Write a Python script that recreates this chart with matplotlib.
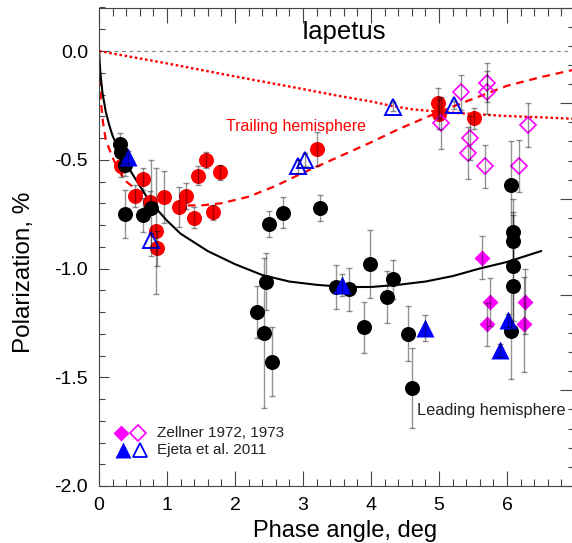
import matplotlib
matplotlib.use('Agg')
import matplotlib.pyplot as plt
from matplotlib.ticker import MultipleLocator, FormatStrFormatter

plt.rcParams['font.family'] = ['Liberation Sans', 'DejaVu Sans']
plt.rcParams['axes.unicode_minus'] = False

# ---------------- data ----------------
# Leading hemisphere, this work (black filled circles)
lead_x = [0.31, 0.32, 0.38, 0.38, 0.64, 0.76, 2.45, 2.33, 2.43, 2.54, 2.50, 2.70, 3.25,
          3.49, 3.68, 3.99, 3.90, 4.23, 4.32, 4.54, 4.61, 6.06, 6.09, 6.09, 6.09, 6.09, 6.06]
lead_y = [-0.429, -0.463, -0.524, -0.751, -0.754, -0.723, -1.06, -1.20, -1.295, -1.428, -0.795, -0.743, -0.72,
          -1.084, -1.096, -0.98, -1.27, -1.13, -1.05, -1.30, -1.55, -0.616, -0.83, -0.872, -0.99, -1.08, -1.286]
lead_e = [0.05, 0.05, 0.05, 0.11, 0.08, 0.22, 0.13, 0.12, 0.345, 0.16, 0.06, 0.07, 0.06,
          0.10, 0.10, 0.157, 0.117, 0.12, 0.09, 0.126, 0.184, 0.20, 0.15, 0.12, 0.25, 0.20, 0.22]

# Trailing hemisphere, this work (red filled circles)
trail_x = [0.33, 0.64, 0.53, 0.75, 0.84, 0.85, 0.95, 1.17, 1.28, 1.39, 1.46, 1.57, 1.68, 1.78,
           3.20, 4.98, 5.00, 5.52]
trail_y = [-0.53, -0.589, -0.667, -0.693, -0.828, -0.907, -0.67, -0.716, -0.665, -0.766, -0.573, -0.501, -0.742, -0.558,
           -0.45, -0.238, -0.29, -0.31]
trail_e = [0.05, 0.05, 0.05, 0.05, 0.29, 0.08, 0.12, 0.093, 0.06, 0.05, 0.045, 0.035, 0.035, 0.035,
           0.078, 0.07, 0.07, 0.05]

# Zellner 1972, 1973 (filled = leading, open = trailing)
zl_x = [5.63, 5.75, 5.71, 6.26, 6.25]
zl_y = [-0.95, -1.153, -1.257, -1.153, -1.257]
zl_e = [0.10, 0.11, 0.10, 0.15, 0.22]
zt_x = [5.03, 5.33, 5.71, 5.71, 6.31, 5.46, 5.42, 5.67, 6.18]
zt_y = [-0.33, -0.19, -0.145, -0.19, -0.34, -0.40, -0.47, -0.53, -0.53]
zt_e = [0.12, 0.08, 0.09, 0.10, 0.10, 0.10, 0.12, 0.10, 0.12]

# Ejeta et al. 2011 (filled = leading, open = trailing)
el_x = [0.43, 3.58, 4.80, 6.02, 5.89]
el_y = [-0.489, -1.076, -1.275, -1.237, -1.375]
el_e = [0.03, 0.05, 0.06, 0.03, 0.03]
et_x = [0.77, 2.93, 3.03, 4.32, 5.22]
et_y = [-0.869, -0.53, -0.50, -0.256, -0.248]
et_e = [0.03, 0.03, 0.03, 0.02, 0.02]

# Model curves
fitL_x = [0, 0.02, 0.05, 0.1, 0.15, 0.2, 0.3, 0.4, 0.5, 0.6, 0.7, 0.8, 1.0, 1.2, 1.4, 1.6, 1.8,
          2.0, 2.4, 2.8, 3.2, 3.6, 4.0, 4.4, 4.8, 5.2, 5.6, 6.0, 6.5]
fitL_y = [0, -0.10, -0.19, -0.28, -0.34, -0.39, -0.46, -0.52, -0.57, -0.62, -0.67, -0.71, -0.78, -0.84,
          -0.88, -0.92, -0.95, -0.98, -1.03, -1.06, -1.075, -1.085, -1.085, -1.075, -1.06, -1.035, -1.0, -0.97, -0.92]

fitT1_x = [0, 0.01, 0.03, 0.06, 0.1, 0.2, 0.3, 0.4, 0.5, 0.7, 0.9, 1.1, 1.3, 1.5, 1.8, 2.2, 2.6, 3.0,
           3.5, 4.0, 4.4, 5.0, 5.5, 6.0, 6.5, 7.0]
fitT1_y = [0, -0.12, -0.24, -0.33, -0.41, -0.49, -0.555, -0.60, -0.625, -0.665, -0.69, -0.705, -0.71, -0.71,
           -0.70, -0.67, -0.62, -0.56, -0.49, -0.42, -0.36, -0.28, -0.22, -0.16, -0.12, -0.085]

fitT2_x = [0, 1.0, 2.0, 3.0, 3.5, 4.0, 4.3, 4.6, 5.0, 5.5, 6.0, 6.5, 7.0]
fitT2_y = [0, -0.057, -0.117, -0.175, -0.205, -0.232, -0.252, -0.268, -0.279, -0.29, -0.299, -0.305, -0.312]

xticks = [0, 1, 2, 3, 4, 5, 6, 7]
xticklabels = ['0', '1', '2', '3', '4', '5', '6', '']

# ---------------- figure ----------------
W, H = 572, 543
fig = plt.figure(figsize=(W / 100, H / 100), dpi=100)
ax = fig.add_axes([99 / W, 57 / H, 7 * 68 / W, (486 - 7.5) / H])
ax.set_xlim(0, 7)
ax.set_ylim(-2.0, 0.2)

RED = '#ff0000'
MAG = '#ff00ff'
BLUE = '#0000ff'
ECOL = (0, 0, 0, 0.42)

ax.axhline(0, color='#888888', lw=0.9, ls=(0, (3, 3)), zorder=1)
ax.plot(fitT2_x, fitT2_y, color=RED, lw=1.7, ls=(0, (1.1, 1.1)), zorder=2)
ax.plot(fitT1_x, fitT1_y, color=RED, lw=1.6, ls=(0, (3.5, 2.6)), zorder=2)
ax.plot(fitL_x, fitL_y, color='black', lw=1.5, zorder=2)

ax.plot(trail_x, trail_y, 'o', color=RED, ms=10.8, mec='none', zorder=3)
ax.plot(lead_x, lead_y, 'o', color='black', ms=10.8, mec='none', zorder=3)
ax.plot(zl_x, zl_y, 'D', color=MAG, ms=8.2, mec='none', zorder=4)
ax.plot(zt_x, zt_y, 'D', mfc='none', mec=MAG, mew=1.2, ms=8.2, zorder=4)
ax.plot(el_x, el_y, '^', color=BLUE, ms=12.5, mec='none', zorder=4)
ax.plot(et_x, et_y, '^', mfc='none', mec=BLUE, mew=1.4, ms=11.5, zorder=4)

for xs, ys, es in [(lead_x, lead_y, lead_e), (trail_x, trail_y, trail_e),
                   (zl_x, zl_y, zl_e), (zt_x, zt_y, zt_e),
                   (el_x, el_y, el_e), (et_x, et_y, et_e)]:
    ax.errorbar(xs, ys, yerr=es, fmt='none', ecolor=ECOL, elinewidth=1.0,
                capsize=2.2, capthick=1.0, zorder=6)

# texts
ax.text(3.6, 0.087, 'Iapetus', ha='center', va='center', fontsize=18.5)
ax.text(2.9, -0.345, 'Trailing hemisphere', color=RED, ha='center', va='center', fontsize=11.5)
ax.text(4.676, -1.651, 'Leading hemisphere', color='#222222', ha='left', va='center', fontsize=11.8)

# legend (manual)
ax.plot([0.324], [-1.758], 'D', color=MAG, ms=8.2, mec='none', zorder=4)
ax.plot([0.569], [-1.758], 'D', mfc='none', mec=MAG, mew=1.2, ms=8.2, zorder=4)
ax.text(0.848, -1.758, 'Zellner 1972, 1973', ha='left', va='center', fontsize=11, color='#222222')
ax.plot([0.357], [-1.834], '^', color=BLUE, ms=11, mec='none', zorder=4)
ax.plot([0.603], [-1.834], '^', mfc='none', mec=BLUE, mew=1.3, ms=10.5, zorder=4)
ax.text(0.848, -1.834, 'Ejeta et al. 2011', ha='left', va='center', fontsize=11, color='#222222')

# axes styling
ax.set_xticks(xticks)
ax.set_xticklabels(xticklabels)
ax.xaxis.set_minor_locator(MultipleLocator(0.2))
ax.yaxis.set_major_locator(MultipleLocator(0.5))
ax.yaxis.set_minor_locator(MultipleLocator(0.1))
ax.yaxis.set_major_formatter(FormatStrFormatter('%.1f'))
TC = '#444444'
ax.tick_params(axis='x', which='major', direction='in', length=10.8, width=0.8, color=TC,
               top=True, labelsize=14, pad=8)
ax.tick_params(axis='x', which='minor', direction='in', length=5.4, width=0.8, color=TC, top=True)
ax.tick_params(axis='y', which='major', direction='in', length=7.5, width=0.8, color=TC,
               right=False, labelsize=14, pad=8)
ax.tick_params(axis='y', which='minor', direction='in', length=4.0, width=0.8, color=TC, right=False)
for s in ax.spines.values():
    s.set_color(TC)
    s.set_linewidth(0.8)

ax2 = ax.twinx()
ax2.set_ylim(0, 5)
ax2.yaxis.set_major_locator(MultipleLocator(1))
ax2.yaxis.set_minor_locator(MultipleLocator(0.2))
ax2.tick_params(axis='y', which='major', direction='in', length=10.8, width=0.8, color=TC, labelright=False)
ax2.tick_params(axis='y', which='minor', direction='in', length=5.4, width=0.8, color=TC)
for s in ax2.spines.values():
    s.set_visible(False)

fig.text(345 / W, 1 - 537 / H, 'Phase angle, deg', ha='center', va='baseline', fontsize=17)
fig.text(24 / W, 1 - 272 / H, 'Polarization, %', ha='center', va='center', rotation=90, fontsize=17.5)

fig.savefig('out.png', dpi=100)
